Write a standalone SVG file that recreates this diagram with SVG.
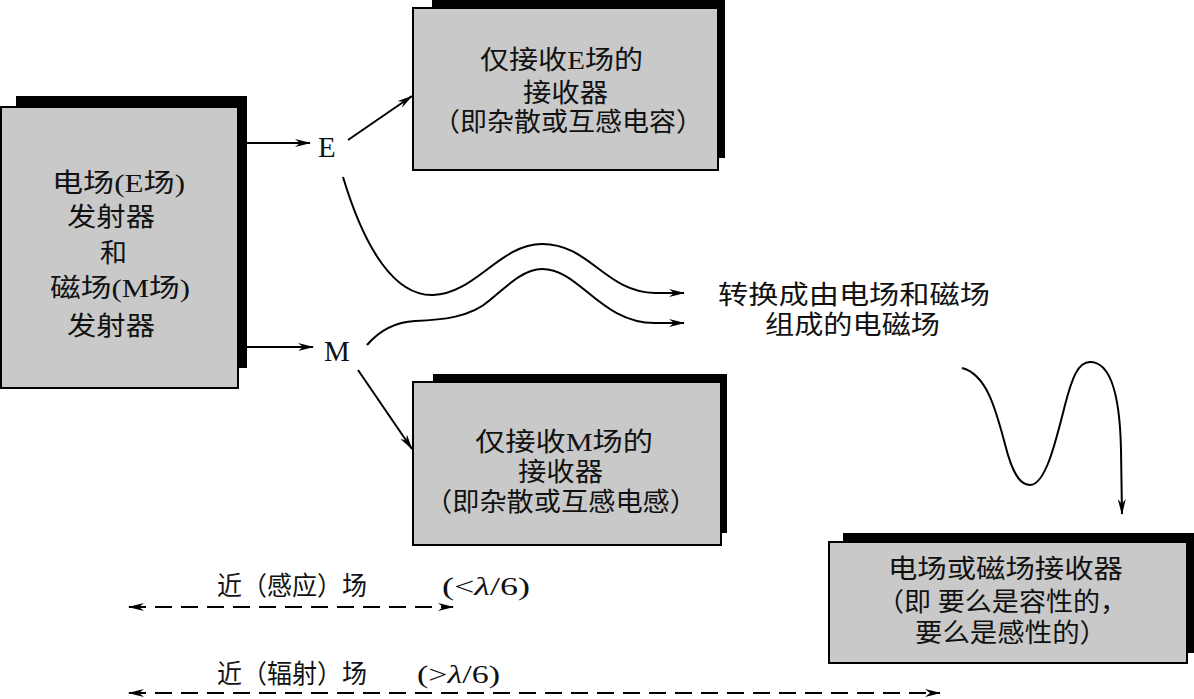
<svg xmlns="http://www.w3.org/2000/svg" width="1194" height="699" viewBox="0 0 1194 699">
<style>
.sh{fill:#000}
.bx{fill:#c9c9c9;stroke:#000;stroke-width:2}
.t{font-family:"Liberation Serif","Noto Sans CJK SC",serif;font-size:26px;fill:#111}
.l{font-family:"Liberation Serif","Noto Sans CJK SC",serif;font-size:29px;fill:#111}
.c{fill:none;stroke:#000;stroke-width:2}
.d{fill:none;stroke:#000;stroke-width:2;stroke-dasharray:17 9}
</style>
<defs>
<marker id="ah" viewBox="0 0 16 8" refX="15" refY="4" markerWidth="16" markerHeight="8" markerUnits="userSpaceOnUse" orient="auto-start-reverse">
<path d="M0,0 L16,4 L0,8 L5,4 Z" fill="#000"/>
</marker>
</defs>
<rect width="1194" height="699" fill="#fff"/>
<g id="emitter">
<rect class="sh" x="16" y="96" width="231" height="272"/>
<rect class="bx" x="1" y="107" width="237" height="281"/>
<text class="t" x="52" y="192" textLength="133" lengthAdjust="spacingAndGlyphs">电场(E场)</text>
<text class="t" x="67" y="226" textLength="88" lengthAdjust="spacingAndGlyphs">发射器</text>
<text class="t" x="100" y="262" textLength="27" lengthAdjust="spacingAndGlyphs">和</text>
<text class="t" x="50" y="297" textLength="140" lengthAdjust="spacingAndGlyphs">磁场(M场)</text>
<text class="t" x="67" y="335" textLength="88" lengthAdjust="spacingAndGlyphs">发射器</text>
</g>
<g id="e-receiver">
<rect class="sh" x="432" y="0" width="293" height="158"/>
<rect class="bx" x="413" y="8" width="305" height="162"/>
<text class="t" x="480" y="69" textLength="163" lengthAdjust="spacingAndGlyphs">仅接收E场的</text>
<text class="t" x="523" y="102" textLength="85" lengthAdjust="spacingAndGlyphs">接收器</text>
<text class="t" x="433" y="131" textLength="270" lengthAdjust="spacingAndGlyphs">（即杂散或互感电容）</text>
</g>
<g id="m-receiver">
<rect class="sh" x="433" y="374" width="294" height="159"/>
<rect class="bx" x="413" y="382" width="308" height="163"/>
<text class="t" x="475" y="451" textLength="178" lengthAdjust="spacingAndGlyphs">仅接收M场的</text>
<text class="t" x="518" y="481" textLength="85" lengthAdjust="spacingAndGlyphs">接收器</text>
<text class="t" x="425" y="511" textLength="272" lengthAdjust="spacingAndGlyphs">（即杂散或互感电感）</text>
</g>
<g id="em-receiver">
<rect class="sh" x="843" y="533" width="351" height="120"/>
<rect class="bx" x="829" y="542" width="358" height="121"/>
<text class="t" x="888" y="578" textLength="235" lengthAdjust="spacingAndGlyphs">电场或磁场接收器</text>
<text class="t" x="877" y="611" textLength="250" lengthAdjust="spacingAndGlyphs">（即 要么是容性的，</text>
<text class="t" x="915" y="642" textLength="192" lengthAdjust="spacingAndGlyphs">要么是感性的）</text>
</g>
<g id="label-e"><text class="l" x="318" y="157">E</text></g>
<g id="label-m"><text class="l" x="324" y="361">M</text></g>
<g id="label-em">
<text class="t" x="718" y="304" textLength="272" lengthAdjust="spacingAndGlyphs">转换成由电场和磁场</text>
<text class="t" x="765" y="334" textLength="175" lengthAdjust="spacingAndGlyphs">组成的电磁场</text>
</g>
<g id="label-near">
<text class="t" x="217" y="595" textLength="150" lengthAdjust="spacingAndGlyphs">近（感应）场</text>
<text class="t" x="442" y="595" textLength="88" lengthAdjust="spacingAndGlyphs">(&lt;<tspan font-style="italic">λ</tspan>/6)</text>
</g>
<g id="label-far">
<text class="t" x="217" y="683" textLength="150" lengthAdjust="spacingAndGlyphs">近（辐射）场</text>
<text class="t" x="417" y="683" textLength="83" lengthAdjust="spacingAndGlyphs">(&gt;<tspan font-style="italic">λ</tspan>/6)</text>
</g>
<g id="connectors">
<path class="c" d="M247,143 L310,143" marker-end="url(#ah)"/>
<path class="c" d="M247,347 L313,347" marker-end="url(#ah)"/>
<path class="c" d="M348,140 L412,96" marker-end="url(#ah)"/>
<path class="c" d="M358,370 L412,449" marker-end="url(#ah)"/>
<path class="c" d="M343,177 C365,250 395,296 433,295 C475,294 500,244 542,244 C590,244 605,292 655,293 L684,293" marker-end="url(#ah)"/>
<path class="c" d="M367,345 C380,330 395,322 415,321 C440,320 470,318 490,300 C510,283 525,269 542,269 C580,269 600,323 655,323 L684,323" marker-end="url(#ah)"/>
<path class="c" d="M962,368 C990,375 998,420 1008,455 C1015,478 1022,485 1030,485 C1045,485 1055,445 1065,405 C1072,378 1078,362 1090,362 C1112,362 1120,400 1121,450 L1122,514" marker-end="url(#ah)"/>
<path class="d" d="M129,607 L453,607" marker-start="url(#ah)" marker-end="url(#ah)"/>
<path class="d" d="M129,693 L940,693" marker-start="url(#ah)" marker-end="url(#ah)"/>
</g>
</svg>
